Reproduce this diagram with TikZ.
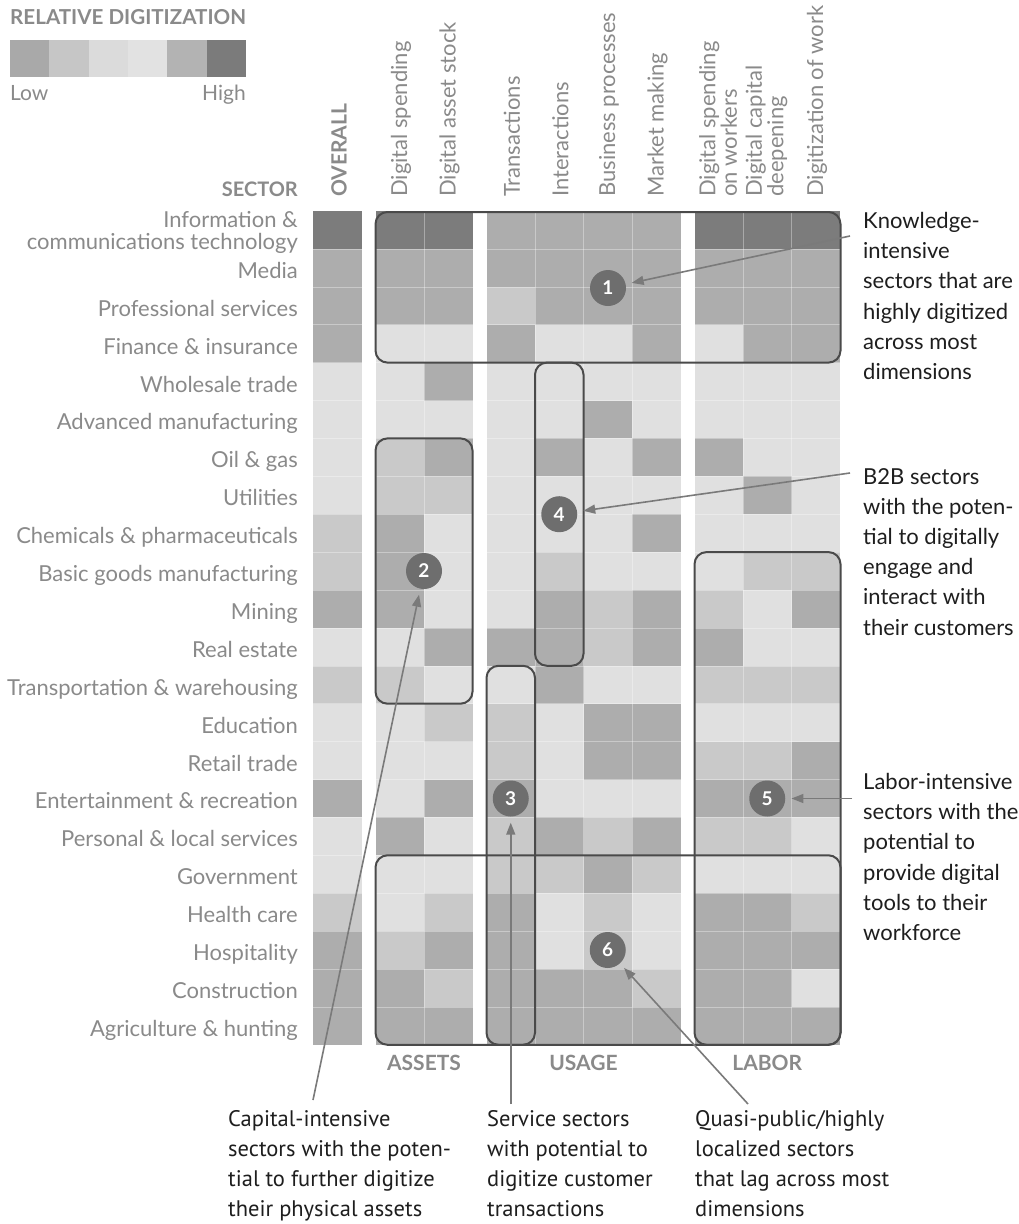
\documentclass[tikz,border=0pt]{standalone}
\usepackage{fontspec}
\setmainfont{Lato}
\newfontfamily\condfont{PT Sans}
\usetikzlibrary{arrows.meta}

% heat-map levels
\definecolor{lvD}{HTML}{7C7C7C}
\definecolor{lvM}{HTML}{ADADAD}
\definecolor{lvm}{HTML}{C9C9C9}
\definecolor{lvL}{HTML}{E0E0E0}
% legend swatches
\definecolor{leg1}{HTML}{A9A9A9}
\definecolor{leg2}{HTML}{C6C6C6}
\definecolor{leg3}{HTML}{DBDBDB}
\definecolor{leg4}{HTML}{E2E2E2}
\definecolor{leg5}{HTML}{B3B3B3}
\definecolor{leg6}{HTML}{7B7B7B}
% ink
\definecolor{labelgray}{HTML}{8A8A8A}
\definecolor{boxline}{HTML}{4A4A4A}
\definecolor{badgefill}{HTML}{6E6E6E}
\definecolor{pointergray}{HTML}{7A7A7A}
\definecolor{notetext}{HTML}{1E1E1E}

\tikzset{
  rowlabel/.style={anchor=base east, inner sep=0pt, text=labelgray, font=\fontsize{22}{23}\selectfont},
  colhead/.style={anchor=west, rotate=90, inner sep=0pt, align=left, text=labelgray, font=\fontsize{22}{21.5}\selectfont},
  grouphead/.style={inner sep=0pt, text=labelgray, font=\bfseries\fontsize{21}{22}\selectfont},
  groupbox/.style={draw=boxline, line width=2pt, rounded corners=12pt},
  badge/.style={circle, fill=badgefill, text=white, minimum size=36pt, inner sep=0pt, font=\bfseries\fontsize{19}{19}\selectfont},
  sidenote/.style={anchor=north west, inner sep=0pt, align=left, text=notetext, font=\fontsize{22}{30.2}\selectfont},
  footnote/.style={anchor=north west, inner sep=0pt, align=left, text=notetext, font=\condfont\fontsize{22.5}{30}\selectfont},
  pointer/.style={draw=pointergray, line width=1.6pt, -{Triangle[length=12pt,width=9pt]}, shorten >=6pt},
  seam/.style={white, line width=0.6pt, opacity=0.35},
}

\begin{document}
\begin{tikzpicture}[x=1pt,y=-1pt]
\useasboundingbox (0,0) rectangle (1018,1224);
\fill[white] (0,0) rectangle (1018,1224);

% ---- legend ----
\node[anchor=west, inner sep=0pt, text=labelgray, font=\bfseries\fontsize{20.6}{21}\selectfont] (legtitle) at (10,17) {RELATIVE DIGITIZATION};
\foreach \k in {1,...,6} {
  \fill[leg\k] ({10+39.33*(\k-1)},40) rectangle ++(39.33,37);
}
\node[anchor=base west, inner sep=0pt, text=labelgray, font=\fontsize{21}{22}\selectfont] (low) at (10,100) {Low};
\node[anchor=base east, inner sep=0pt, text=labelgray, font=\fontsize{21}{22}\selectfont] (high) at (246,100) {High};

% ---- heat map: overall | assets (2) | usage (4) | labor (3) ----
\foreach \vals [count=\r from 0] in {
  {D,D,D,M,M,M,M,D,D,D},
  {M,M,M,M,M,M,M,M,M,M},
  {M,M,M,m,M,M,M,M,M,M},
  {M,L,L,M,L,L,M,L,M,M},
  {L,L,M,L,L,L,L,L,L,L},
  {L,L,L,L,L,M,L,L,L,L},
  {L,m,M,L,M,L,M,M,L,L},
  {L,m,m,L,L,L,L,L,M,L},
  {m,M,L,L,L,L,M,L,L,L},
  {m,M,L,L,m,L,L,L,m,m},
  {M,M,L,L,M,m,M,m,L,M},
  {L,L,M,M,M,m,M,M,L,L},
  {m,m,L,L,M,L,L,m,m,m},
  {L,L,m,m,L,M,M,L,L,L},
  {L,L,L,m,L,M,M,m,m,M},
  {M,L,M,M,L,L,L,M,M,M},
  {L,M,L,m,M,m,M,m,m,L},
  {L,L,L,m,m,M,m,L,L,L},
  {m,L,m,M,L,m,L,M,M,m},
  {M,m,M,M,L,m,L,M,M,M},
  {M,M,m,M,M,M,m,M,M,L},
  {M,M,M,M,M,M,M,M,M,M}} {
  \foreach \c [count=\k from 0] in \vals {
    \pgfmathsetmacro\xl{{313,375.5,424,486.5,535,583.5,632,694.5,743,791.5}[\k]}
    \fill[lv\c] (\xl,{211+37.9*\r}) rectangle ++(48.6,37.95);
  }
}
% faint cell seams
\foreach \x in {424,535,583.5,632,743,791.5}
  \draw[seam] (\x,211) -- (\x,1044.8);
\foreach \r in {1,...,21} {
  \draw[seam] (313,{211+37.9*\r}) -- (361.5,{211+37.9*\r});
  \draw[seam] (375.5,{211+37.9*\r}) -- (472.5,{211+37.9*\r});
  \draw[seam] (486.5,{211+37.9*\r}) -- (680.5,{211+37.9*\r});
  \draw[seam] (694.5,{211+37.9*\r}) -- (840,{211+37.9*\r});
}

% ---- headers ----
\node[anchor=base east, inner sep=0pt, text=labelgray, font=\bfseries\fontsize{20}{22}\selectfont] (sector) at (298,196) {SECTOR};
\node[anchor=west, rotate=90, inner sep=0pt, text=labelgray, font=\bfseries\fontsize{21}{22}\selectfont] (overall) at (339,197) {OVERALL};
\foreach \x/\t [count=\k] in {
  401/{Digital spending},
  449.5/{Digital asset stock},
  512/{Transactions},
  560.5/{Interactions},
  609/{Business processes},
  657.5/{Market making},
  718/{Digital spending\\on workers},
  766.5/{Digital capital\\deepening},
  817/{Digitization of work}} {
  \node[colhead] (col\k) at (\x,197) {\t};
}

% ---- sector labels ----
\node[anchor=east, inner sep=0pt, align=right, text=labelgray, font=\fontsize{22}{22}\selectfont] (lab0) at (298,232) {Information \&\\communications technology};
\foreach \t [count=\r] in {Media, Professional services, Finance \& insurance, Wholesale trade,
  Advanced manufacturing, Oil \& gas, Utilities, Chemicals \& pharmaceuticals,
  Basic goods manufacturing, Mining, Real estate, Transportation \& warehousing,
  Education, Retail trade, Entertainment \& recreation, Personal \& local services,
  Government, Health care, Hospitality, Construction, Agriculture \& hunting} {
  \node[rowlabel] (lab\r) at (298,{211+37.9*\r+18.95+10.5}) {\t};
}

% ---- group labels ----
\node[grouphead] (assets) at (424,1063) {ASSETS};
\node[grouphead] (usage) at (583.5,1063) {USAGE};
\node[grouphead] (labor) at (767.25,1063) {LABOR};

% ---- cluster outlines ----
\draw[groupbox] (375.5,212) rectangle (840.5,362.6);
\draw[groupbox] (535,362.6) rectangle (583.5,665.8);
\draw[groupbox] (375.5,438.4) rectangle (472.5,703.7);
\draw[groupbox] (486.5,665.8) rectangle (535,1044.8);
\draw[groupbox] (694.5,552.1) rectangle (840.5,1044.8);
\draw[groupbox] (375.5,855.3) rectangle (840.5,1044.8);

% ---- numbered badges ----
\node[badge] (c1) at (608,288) {1};
\node[badge] (c2) at (424,571) {2};
\node[badge] (c3) at (510.75,798.5) {3};
\node[badge] (c4) at (559.25,514.2) {4};
\node[badge] (c5) at (767.25,798.5) {5};
\node[badge] (c6) at (607.75,950) {6};

% ---- notes ----
\node[sidenote] (n1) at (863,212) {Knowledge-\\intensive\\sectors that are\\highly digitized\\across most\\dimensions};
\node[sidenote] (n4) at (863,468) {B2B sectors\\with the poten-\\tial to digitally\\engage and\\interact with\\their customers};
\node[sidenote] (n5) at (863,773) {Labor-intensive\\sectors with the\\potential to\\provide digital\\tools to their\\workforce};
\node[footnote] (n2) at (228,1110) {Capital-intensive\\sectors with the poten-\\tial to further digitize\\their physical assets};
\node[footnote] (n3) at (487,1110) {Service sectors\\with potential to\\digitize customer\\transactions};
\node[footnote] (n6) at (695,1110) {Quasi-public/highly\\localized sectors\\that lag across most\\dimensions};

% ---- pointers ----
\coordinate (s1) at (850,236);
\coordinate (s4) at (850,473);
\coordinate (s5) at (852,798.5);
\coordinate (s2) at (313,1100);
\coordinate (s3) at (510.75,1104);
\coordinate (s6) at (748,1104);
\draw[pointer] (s1) -- (c1);
\draw[pointer] (s4) -- (c4);
\draw[pointer] (s5) -- (c5);
\draw[pointer] (s2) -- (c2);
\draw[pointer] (s3) -- (c3);
\draw[pointer] (s6) -- (c6);
\end{tikzpicture}
\end{document}
